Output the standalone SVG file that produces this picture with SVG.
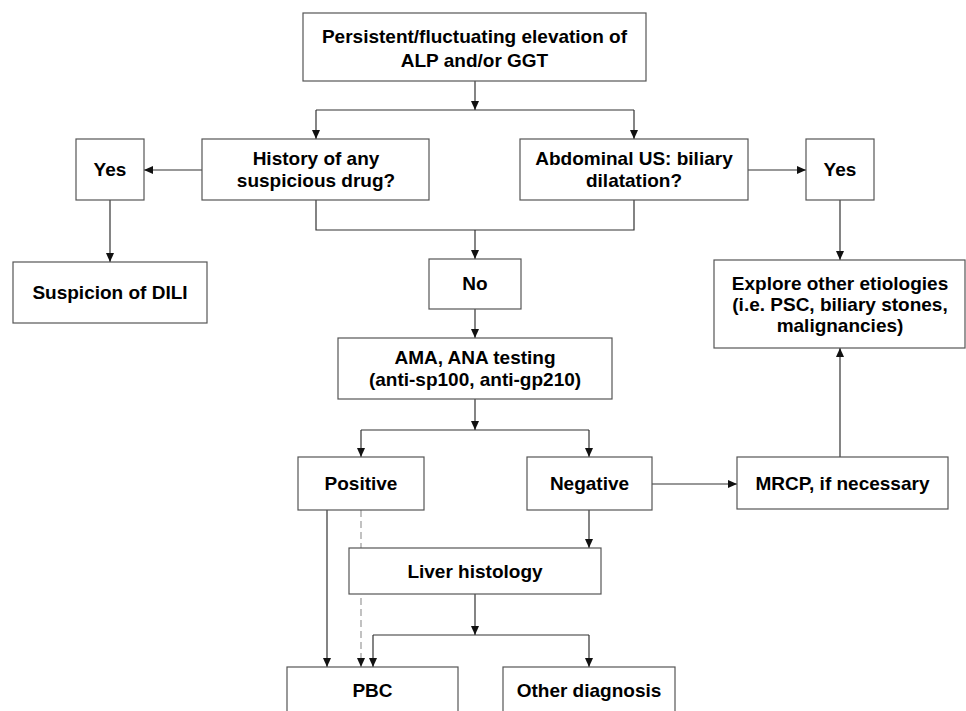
<svg xmlns="http://www.w3.org/2000/svg" width="966" height="711" viewBox="0 0 966 711">
<style>
.box{fill:#fff;stroke:#555;stroke-width:1.2}
.t{font-family:"Liberation Sans",Arial,sans-serif;font-weight:bold;font-size:19px;fill:#000;text-anchor:middle}
.c{fill:none;stroke:#333;stroke-width:1.2}
.d{fill:none;stroke:#999;stroke-width:1.2;stroke-dasharray:7,4}
</style>
<defs>
<marker id="ah" markerUnits="userSpaceOnUse" markerWidth="9" markerHeight="8" refX="9" refY="4" orient="auto">
<path d="M0,0 L9,4 L0,8 z" fill="#111"/>
</marker>
</defs>
<rect width="966" height="711" fill="#fff"/>
<g id="connectors">
<path class="c" d="M475,81 V110" marker-end="url(#ah)"/>
<path class="c" d="M316,110 H634"/>
<path class="c" d="M316,110 V139" marker-end="url(#ah)"/>
<path class="c" d="M634,110 V139" marker-end="url(#ah)"/>
<path class="c" d="M202,170 H144" marker-end="url(#ah)"/>
<path class="c" d="M748,170 H806" marker-end="url(#ah)"/>
<path class="c" d="M110,200 V262" marker-end="url(#ah)"/>
<path class="c" d="M840,200 V260" marker-end="url(#ah)"/>
<path class="c" d="M316,200 V230 H634 V200"/>
<path class="c" d="M475,230 V259" marker-end="url(#ah)"/>
<path class="c" d="M475,309 V338" marker-end="url(#ah)"/>
<path class="c" d="M475,399 V430" marker-end="url(#ah)"/>
<path class="c" d="M361,430 H589"/>
<path class="c" d="M361,430 V457" marker-end="url(#ah)"/>
<path class="c" d="M589,430 V457" marker-end="url(#ah)"/>
<path class="c" d="M652,484 H737" marker-end="url(#ah)"/>
<path class="c" d="M840,457 V348" marker-end="url(#ah)"/>
<path class="c" d="M589,510 V548" marker-end="url(#ah)"/>
<path class="c" d="M327,510 V667" marker-end="url(#ah)"/>
<path class="d" d="M361,510 V667" marker-end="url(#ah)"/>
<path class="c" d="M475,594 V635" marker-end="url(#ah)"/>
<path class="c" d="M373,635 H589"/>
<path class="c" d="M373,635 V667" marker-end="url(#ah)"/>
<path class="c" d="M589,635 V667" marker-end="url(#ah)"/>
</g>
<g id="n-top"><rect class="box" x="303" y="13" width="343" height="68"/><text class="t" x="474.5" y="43">Persistent/fluctuating elevation of</text><text class="t" x="474.5" y="67">ALP and/or GGT</text></g>
<g id="n-history"><rect class="box" x="202" y="139" width="227" height="61"/><text class="t" x="316" y="165">History of any</text><text class="t" x="316" y="187">suspicious drug?</text></g>
<g id="n-abdominal"><rect class="box" x="520" y="139" width="228" height="61"/><text class="t" x="634" y="165">Abdominal US: biliary</text><text class="t" x="634" y="187">dilatation?</text></g>
<g id="n-yes-left"><rect class="box" x="76" y="139" width="68" height="61"/><text class="t" x="110" y="176">Yes</text></g>
<g id="n-yes-right"><rect class="box" x="806" y="139" width="68" height="61"/><text class="t" x="840" y="176">Yes</text></g>
<g id="n-dili"><rect class="box" x="13" y="262" width="194" height="61"/><text class="t" x="110" y="299">Suspicion of DILI</text></g>
<g id="n-no"><rect class="box" x="429" y="259" width="92" height="50"/><text class="t" x="475" y="290">No</text></g>
<g id="n-explore"><rect class="box" x="714" y="260" width="251" height="88"/><text class="t" x="840" y="290">Explore other etiologies</text><text class="t" x="840" y="311">(i.e. PSC, biliary stones,</text><text class="t" x="840" y="332">malignancies)</text></g>
<g id="n-ama"><rect class="box" x="338" y="338" width="274" height="61"/><text class="t" x="475" y="364">AMA, ANA testing</text><text class="t" x="475" y="386">(anti-sp100, anti-gp210)</text></g>
<g id="n-positive"><rect class="box" x="298" y="457" width="126" height="53"/><text class="t" x="361" y="490">Positive</text></g>
<g id="n-negative"><rect class="box" x="527" y="457" width="125" height="53"/><text class="t" x="589.5" y="490">Negative</text></g>
<g id="n-mrcp"><rect class="box" x="737" y="457" width="211" height="52"/><text class="t" x="842.5" y="490">MRCP, if necessary</text></g>
<g id="n-liver"><rect class="box" x="349" y="548" width="252" height="46"/><text class="t" x="475" y="578">Liver histology</text></g>
<g id="n-pbc"><rect class="box" x="287" y="667" width="171" height="60"/><text class="t" x="372.5" y="697">PBC</text></g>
<g id="n-other"><rect class="box" x="503" y="667" width="172" height="60"/><text class="t" x="589" y="697">Other diagnosis</text></g>
</svg>
